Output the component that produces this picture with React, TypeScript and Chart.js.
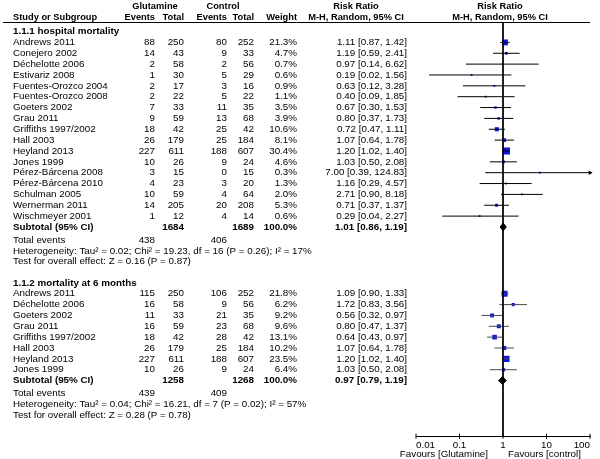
import React, { useEffect, useRef } from "react";
import { Chart, registerables } from "chart.js";

Chart.register(...registerables);

// ---------------- data ----------------
const studies1 = [
  "Andrews 2011", "Conejero 2002", "Déchelotte 2006", "Estivariz 2008",
  "Fuentes-Orozco 2004", "Fuentes-Orozco 2008", "Goeters 2002", "Grau 2011",
  "Griffiths 1997/2002", "Hall 2003", "Heyland 2013", "Jones 1999",
  "Pérez-Bárcena 2008", "Pérez-Bárcena 2010", "Schulman 2005",
  "Wernerman 2011", "Wischmeyer 2001",
];
const glutEvents1 = [88, 14, 2, 1, 2, 2, 7, 9, 18, 26, 227, 10, 3, 4, 10, 14, 1];
const glutTotal1 = [250, 43, 58, 30, 17, 22, 33, 59, 42, 179, 611, 26, 15, 23, 59, 205, 12];
const ctrlEvents1 = [80, 9, 2, 5, 3, 5, 11, 13, 25, 25, 188, 9, 0, 3, 4, 20, 4];
const ctrlTotal1 = [252, 33, 56, 29, 16, 22, 35, 68, 42, 184, 607, 24, 15, 20, 64, 208, 14];
const weight1 = [21.3, 4.7, 0.7, 0.6, 0.9, 1.1, 3.5, 3.9, 10.6, 8.1, 30.4, 4.6, 0.3, 1.3, 2.0, 5.3, 0.6];
const rr1 = [1.11, 1.19, 0.97, 0.19, 0.63, 0.40, 0.67, 0.80, 0.72, 1.07, 1.20, 1.03, 7.00, 1.16, 2.71, 0.71, 0.29];
const lo1 = [0.87, 0.59, 0.14, 0.02, 0.12, 0.09, 0.30, 0.37, 0.47, 0.64, 1.02, 0.50, 0.39, 0.29, 0.90, 0.37, 0.04];
const hi1 = [1.42, 2.41, 6.62, 1.56, 3.28, 1.85, 1.53, 1.73, 1.11, 1.78, 1.40, 2.08, 124.83, 4.57, 8.18, 1.37, 2.27];
const subtotalN1 = [1684, 1689];
const subtotalRR1 = [1.01, 0.86, 1.19];
const totalEvents1 = [438, 406];
const heterogeneity1 = "Heterogeneity: Tau² = 0.02; Chi² = 19.23, df = 16 (P = 0.26); I² = 17%";
const overall1 = "Test for overall effect: Z = 0.16 (P = 0.87)";
const title1 = "1.1.1 hospital mortality";

const studies2 = [
  "Andrews 2011", "Déchelotte 2006", "Goeters 2002", "Grau 2011",
  "Griffiths 1997/2002", "Hall 2003", "Heyland 2013", "Jones 1999",
];
const glutEvents2 = [115, 16, 11, 16, 18, 26, 227, 10];
const glutTotal2 = [250, 58, 33, 59, 42, 179, 611, 26];
const ctrlEvents2 = [106, 9, 21, 23, 28, 25, 188, 9];
const ctrlTotal2 = [252, 56, 35, 68, 42, 184, 607, 24];
const weight2 = [21.8, 6.2, 9.2, 9.6, 13.1, 10.2, 23.5, 6.4];
const rr2 = [1.09, 1.72, 0.56, 0.80, 0.64, 1.07, 1.20, 1.03];
const lo2 = [0.90, 0.83, 0.32, 0.47, 0.43, 0.64, 1.02, 0.50];
const hi2 = [1.33, 3.56, 0.97, 1.37, 0.97, 1.78, 1.40, 2.08];
const subtotalN2 = [1258, 1268];
const subtotalRR2 = [0.97, 0.79, 1.19];
const totalEvents2 = [439, 409];
const heterogeneity2 = "Heterogeneity: Tau² = 0.04; Chi² = 16.21, df = 7 (P = 0.02); I² = 57%";
const overall2 = "Test for overall effect: Z = 0.28 (P = 0.78)";
const title2 = "1.1.2 mortality at 6 months";

const tickValues = [0.01, 0.1, 1, 10, 100];
const tickLabels = ["0.01", "0.1", "1", "10", "100"];
const favoursLeft = "Favours [Glutamine]";
const favoursRight = "Favours [control]";

// ---------------- layout ----------------
const W = 600;
const H = 459;
const FONT = '"Liberation Sans", Arial, Helvetica, sans-serif';
const FS = 9.8;
const FS_HEAD = 9.3;
const ROW_PX = 10.85;
const AREA = { left: 416, right: 590, top: 22, bottom: 436 };
const Y_MAX = (AREA.bottom - AREA.top) / ROW_PX;
const COL = { name: 13, gEv: 155, gTot: 184, cEv: 227, cTot: 254, wt: 297, ci: 407, ciHead: 356 };
const AX_MIN = tickValues[0];
const AX_MAX = tickValues[tickValues.length - 1];

type Section = {
  title: string; studies: string[]; ge: number[]; gt: number[]; ce: number[]; ct: number[];
  w: number[]; rr: number[]; lo: number[]; hi: number[]; subN: number[]; subRR: number[];
  te: number[]; het: string; overall: string; lineColor: string;
  rows?: { head: number; study: number[]; sub: number; te: number; het: number; test: number };
};

const sections: Section[] = [
  { title: title1, studies: studies1, ge: glutEvents1, gt: glutTotal1, ce: ctrlEvents1, ct: ctrlTotal1,
    w: weight1, rr: rr1, lo: lo1, hi: hi1, subN: subtotalN1, subRR: subtotalRR1, te: totalEvents1,
    het: heterogeneity1, overall: overall1, lineColor: "#000000" },
  { title: title2, studies: studies2, ge: glutEvents2, gt: glutTotal2, ce: ctrlEvents2, ct: ctrlTotal2,
    w: weight2, rr: rr2, lo: lo2, hi: hi2, subN: subtotalN2, subRR: subtotalRR2, te: totalEvents2,
    het: heterogeneity2, overall: overall2, lineColor: "#4a4a4a" },
];

// row positions (in row units, 0 = header underline)
{
  let start = 0.88;
  for (const s of sections) {
    const study = s.studies.map((_, i) => start + 1 + i);
    const sub = start + 1 + s.studies.length;
    const te = sub + 1.2;
    const het = te + 1;
    const test = het + 1;
    s.rows = { head: start, study, sub, te, het, test };
    start = test + 1.95;
  }
}

const fmt = (v: number) => v.toFixed(2);
const ciText = (r: number, l: number, h: number) => `${fmt(r)} [${fmt(l)}, ${fmt(h)}]`;
const sqRadius = (w: number) => Math.max(1.3, 0.9 * Math.sqrt(w));

function buildDatasets() {
  const ds: any[] = [];
  // line of no effect
  ds.push({
    type: "line", data: [{ x: 1, y: 0 }, { x: 1, y: Y_MAX }], borderColor: "#000",
    borderWidth: 1, pointRadius: 0, clip: false,
  });
  for (const s of sections) {
    const rows = s.rows!;
    s.studies.forEach((_, i) => {
      ds.push({
        type: "line",
        data: [{ x: Math.max(s.lo[i], AX_MIN), y: rows.study[i] }, { x: Math.min(s.hi[i], AX_MAX), y: rows.study[i] }],
        borderColor: s.lineColor, borderWidth: 1, pointRadius: 0, clip: false,
      });
    });
    // arrows for CIs beyond the axis
    const arrows = s.studies
      .map((_, i) => (s.hi[i] > AX_MAX ? { x: AX_MAX, y: rows.study[i] } : null))
      .filter(Boolean);
    if (arrows.length) {
      ds.push({
        type: "scatter", data: arrows, pointStyle: "triangle", rotation: 90, pointRadius: 2.6,
        backgroundColor: "#000", borderColor: "#000", borderWidth: 0, clip: false,
      });
    }
    // squares
    ds.push({
      type: "scatter",
      data: s.studies.map((_, i) => ({ x: s.rr[i], y: rows.study[i] })),
      pointStyle: "rect",
      pointRadius: s.w.map(sqRadius),
      backgroundColor: "#0a14e6", borderWidth: 0, clip: false,
    });
    // diamond
    const [r, l, h] = s.subRR;
    const d = 0.36;
    ds.push({
      type: "line",
      data: [
        { x: l, y: rows.sub }, { x: r, y: rows.sub - d }, { x: h, y: rows.sub },
        { x: r, y: rows.sub + d }, { x: l, y: rows.sub },
      ],
      borderColor: "#000", backgroundColor: "#000", borderWidth: 1, pointRadius: 0,
      fill: "shape", tension: 0, clip: false,
    });
  }
  // axis tick marks
  ds.push({
    type: "scatter", data: tickValues.map((v) => ({ x: v, y: Y_MAX })), pointStyle: "line",
    rotation: 90, pointRadius: 2.5, borderColor: "#000", borderWidth: 1, clip: false,
  });
  return ds;
}

const textPlugin = {
  id: "forestText",
  afterDraw(chart: any) {
    const ctx: CanvasRenderingContext2D = chart.ctx;
    const ys = chart.scales.y;
    const xs = chart.scales.x;
    const area = chart.chartArea;
    const py = (r: number) => ys.getPixelForValue(r);
    const put = (t: string, px: number, r: number, align: CanvasTextAlign, bold = false, size = FS) => {
      ctx.font = `${bold ? "bold " : ""}${size}px ${FONT}`;
      ctx.textAlign = align;
      ctx.fillText(t, px, py(r));
    };
    const head = (t: string, px: number, r: number, align: CanvasTextAlign) => put(t, px, r, align, true, FS_HEAD);
    ctx.save();
    ctx.fillStyle = "#000";
    ctx.textBaseline = "middle";

    const plotMid = (area.left + area.right) / 2 - 3;
    // headers
    const h1 = -1.45, h2 = -0.45;
    head("Glutamine", 155, h1, "center");
    head("Control", 223, h1, "center");
    head("Risk Ratio", COL.ciHead, h1, "center");
    head("Risk Ratio", plotMid, h1, "center");
    head("Study or Subgroup", COL.name, h2, "left");
    head("Events", COL.gEv, h2, "right");
    head("Total", COL.gTot, h2, "right");
    head("Events", COL.cEv, h2, "right");
    head("Total", COL.cTot, h2, "right");
    head("Weight", COL.wt, h2, "right");
    head("M-H, Random, 95% CI", COL.ciHead, h2, "center");
    head("M-H, Random, 95% CI", plotMid, h2, "center");

    // header underline
    ctx.strokeStyle = "#000";
    ctx.lineWidth = 1;
    ctx.beginPath();
    ctx.moveTo(3, Math.round(area.top) + 0.5);
    ctx.lineTo(area.right, Math.round(area.top) + 0.5);
    ctx.stroke();

    for (const s of sections) {
      const rows = s.rows!;
      put(s.title, COL.name, rows.head, "left", true);
      s.studies.forEach((name, i) => {
        const r = rows.study[i];
        put(name, COL.name, r, "left");
        put(String(s.ge[i]), COL.gEv, r, "right");
        put(String(s.gt[i]), COL.gTot, r, "right");
        put(String(s.ce[i]), COL.cEv, r, "right");
        put(String(s.ct[i]), COL.cTot, r, "right");
        put(s.w[i].toFixed(1) + "%", COL.wt, r, "right");
        put(ciText(s.rr[i], s.lo[i], s.hi[i]), COL.ci, r, "right");
      });
      put("Subtotal (95% CI)", COL.name, rows.sub, "left", true);
      put(String(s.subN[0]), COL.gTot, rows.sub, "right", true);
      put(String(s.subN[1]), COL.cTot, rows.sub, "right", true);
      put("100.0%", COL.wt, rows.sub, "right", true);
      put(ciText(s.subRR[0], s.subRR[1], s.subRR[2]), COL.ci, rows.sub, "right", true);
      put("Total events", COL.name, rows.te, "left");
      put(String(s.te[0]), COL.gEv, rows.te, "right");
      put(String(s.te[1]), COL.cEv, rows.te, "right");
      put(s.het, COL.name, rows.het, "left");
      put(s.overall, COL.name, rows.test, "left");
    }

    // favours labels
    const one = xs.getPixelForValue(1);
    ctx.font = `${FS}px ${FONT}`;
    ctx.textAlign = "right";
    ctx.fillText(favoursLeft, one - 15, area.bottom + 18);
    ctx.textAlign = "left";
    ctx.fillText(favoursRight, one + 5, area.bottom + 18);
    ctx.restore();
  },
};

export default function App() {
  const ref = useRef<HTMLCanvasElement | null>(null);
  useEffect(() => {
    if (!ref.current) return;
    const chart = new Chart(ref.current, {
      type: "scatter",
      data: { datasets: buildDatasets() },
      options: {
        responsive: false,
        animation: false,
        events: [],
        layout: { padding: { left: AREA.left, right: W - AREA.right, top: AREA.top, bottom: 5 } },
        plugins: { legend: { display: false }, tooltip: { enabled: false } },
        scales: {
          x: {
            type: "logarithmic",
            min: AX_MIN,
            max: AX_MAX,
            position: "bottom",
            grid: { display: false, drawTicks: false },
            border: { display: true, color: "#000", width: 1 },
            afterBuildTicks: (scale: any) => {
              scale.ticks = tickValues.map((v) => ({ value: v }));
            },
            ticks: {
              color: "#000",
              font: { family: FONT, size: FS },
              padding: 3,
              align: "inner",
              autoSkip: false,
              maxRotation: 0,
              callback: (_v: any, i: number) => tickLabels[i],
            },
          },
          y: { type: "linear", display: false, min: 0, max: Y_MAX, reverse: true },
        },
      } as any,
      plugins: [textPlugin],
    });
    return () => chart.destroy();
  }, []);
  return (
    <div style={{ position: "absolute", left: 0, top: 0, width: W, height: H, background: "#fff" }}>
      <canvas ref={ref} width={W} height={H} style={{ display: "block" }} />
    </div>
  );
}
